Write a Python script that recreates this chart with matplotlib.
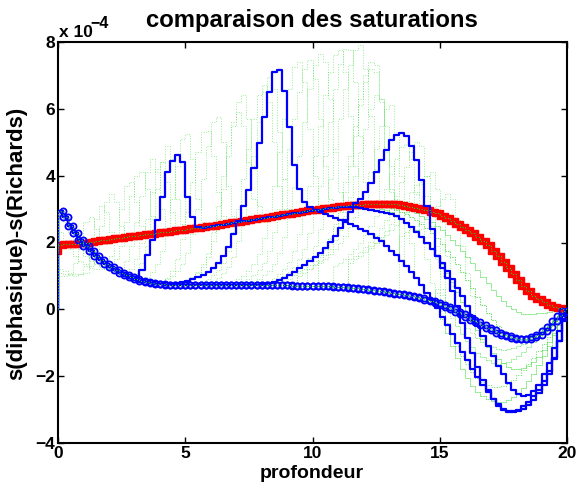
import numpy as np
import matplotlib
matplotlib.use("Agg")
from matplotlib import pyplot as plt

plt.rcParams['font.family'] = ['Liberation Sans', 'DejaVu Sans']
plt.rcParams['font.weight'] = 'bold'

# profondeur grid: 0 .. 20, step 0.2 (101 nodes)
depth = np.linspace(0, 20, 101)

# values are in units of 1e-4
final_s = [0.00,
           2.95, 2.75, 2.50, 2.27, 2.07, 1.90, 1.74, 1.60, 1.47, 1.36,
           1.26, 1.17, 1.09, 1.02, 0.96, 0.91, 0.86, 0.82, 0.79, 0.77,
           0.75, 0.74, 0.73, 0.72, 0.72, 0.72, 0.72, 0.72, 0.72, 0.72,
           0.72, 0.72, 0.72, 0.72, 0.72, 0.72, 0.72, 0.72, 0.72, 0.72,
           0.72, 0.72, 0.72, 0.72, 0.72, 0.72, 0.71, 0.71, 0.71, 0.71,
           0.71, 0.70, 0.70, 0.69, 0.68, 0.67, 0.66, 0.65, 0.63, 0.62,
           0.60, 0.58, 0.56, 0.54, 0.52, 0.50, 0.47, 0.45, 0.42, 0.39,
           0.36, 0.33, 0.29, 0.25, 0.20, 0.14, 0.08, 0.01, -0.07, -0.15,
           -0.23, -0.31, -0.39, -0.47, -0.55, -0.63, -0.70, -0.76, -0.81, -0.85,
           -0.88, -0.89, -0.88, -0.84, -0.77, -0.66, -0.52, -0.36, -0.19, -0.05]

red_s = [1.75,
         1.92, 1.95, 1.96, 1.97, 1.98, 2.00, 2.02, 2.04, 2.06, 2.08,
         2.10, 2.12, 2.14, 2.16, 2.18, 2.20, 2.22, 2.24, 2.26, 2.28,
         2.30, 2.32, 2.34, 2.36, 2.38, 2.40, 2.42, 2.44, 2.46, 2.48,
         2.50, 2.53, 2.55, 2.58, 2.60, 2.62, 2.65, 2.67, 2.70, 2.72,
         2.74, 2.77, 2.79, 2.82, 2.84, 2.86, 2.89, 2.91, 2.94, 2.96,
         2.98, 3.00, 3.02, 3.04, 3.06, 3.08, 3.10, 3.11, 3.12, 3.13,
         3.14, 3.15, 3.16, 3.16, 3.16, 3.15, 3.14, 3.12, 3.10, 3.07,
         3.04, 3.00, 2.96, 2.92, 2.87, 2.80, 2.73, 2.65, 2.56, 2.47,
         2.37, 2.27, 2.16, 2.04, 1.92, 1.76, 1.60, 1.42, 1.24, 1.05,
         0.87, 0.70, 0.54, 0.41, 0.30, 0.21, 0.14, 0.08, 0.04, 0.02]

a_s = [0.00,
       2.95, 2.75, 2.50, 2.27, 2.07, 1.90, 1.74, 1.60, 1.47, 1.36,
       1.26, 1.17, 1.09, 1.02, 0.96, 0.93, 1.18, 1.63, 2.08, 2.67,
       3.37, 4.12, 4.45, 4.62, 4.42, 3.37, 2.77, 2.47, 2.44, 2.46,
       2.48, 2.51, 2.53, 2.56, 2.58, 2.60, 2.63, 2.65, 2.68, 2.70,
       2.72, 2.75, 2.77, 2.80, 2.82, 2.84, 2.87, 2.89, 2.92, 2.94,
       2.96, 2.98, 3.00, 3.02, 3.04, 3.05, 3.06, 3.06, 3.05, 3.03,
       3.00, 2.97, 2.94, 2.91, 2.88, 2.85, 2.80, 2.70, 2.58, 2.45,
       2.30, 2.15, 1.98, 1.80, 1.60, 1.38, 1.15, 0.90, 0.65, 0.40,
       0.10, -0.20, -0.50, -0.80, -1.10, -1.40, -1.70, -1.95, -2.20, -2.40,
       -2.53, -2.58, -2.55, -2.45, -2.25, -1.95, -1.60, -1.15, -0.65, -0.20]

b_s = [0.00,
       2.95, 2.75, 2.50, 2.27, 2.07, 1.90, 1.74, 1.60, 1.47, 1.36,
       1.26, 1.17, 1.09, 1.02, 0.96, 0.91, 0.86, 0.82, 0.79, 0.77,
       0.75, 0.74, 0.76, 0.79, 0.82, 0.86, 0.90, 0.96, 1.03, 1.12,
       1.24, 1.40, 1.60, 1.87, 2.25, 2.65, 3.10, 3.57, 4.22, 4.97,
       5.77, 6.51, 7.09, 7.16, 6.54, 5.45, 4.32, 3.60, 3.20, 3.06,
       2.98, 2.92, 2.86, 2.80, 2.74, 2.68, 2.62, 2.55, 2.48, 2.41,
       2.33, 2.24, 2.14, 2.03, 1.90, 1.76, 1.62, 1.46, 1.30, 1.12,
       0.93, 0.72, 0.50, 0.27, 0.03, -0.22, -0.48, -0.74, -1.00, -1.27,
       -1.53, -1.78, -2.02, -2.25, -2.47, -2.67, -2.84, -2.97, -3.05, -3.07,
       -3.04, -2.97, -2.86, -2.70, -2.50, -2.25, -1.93, -1.50, -0.95, -0.30]

c_s = [0.00,
       2.95, 2.75, 2.50, 2.27, 2.07, 1.90, 1.74, 1.60, 1.47, 1.36,
       1.26, 1.17, 1.09, 1.02, 0.96, 0.91, 0.86, 0.82, 0.79, 0.77,
       0.75, 0.74, 0.73, 0.72, 0.72, 0.72, 0.72, 0.72, 0.72, 0.72,
       0.72, 0.72, 0.72, 0.72, 0.72, 0.72, 0.72, 0.72, 0.72, 0.73,
       0.76, 0.79, 0.83, 0.88, 0.95, 1.03, 1.12, 1.23, 1.34, 1.45,
       1.57, 1.70, 1.85, 2.02, 2.20, 2.42, 2.66, 2.92, 3.18, 3.30,
       3.50, 3.77, 4.12, 4.47, 4.77, 5.07, 5.22, 5.29, 5.19, 4.89,
       4.47, 3.87, 3.10, 2.40, 1.60, 1.25, 0.95, 0.55, 0.10, -0.40,
       -0.85, -1.30, -1.72, -2.10, -2.42, -2.68, -2.88, -3.00, -3.06, -3.05,
       -3.00, -2.90, -2.77, -2.60, -2.40, -2.15, -1.85, -1.45, -0.95, -0.35]

# right-hand parts of the intermediate (green) profiles, 12.0 .. 20.0
early_dip0 = [3.13, 3.14, 3.15, 3.16, 3.16, 3.15, 3.13, 3.10, 3.06, 3.01,
              2.95, 2.88, 2.80, 2.71, 2.61, 2.50, 2.37, 2.23, 2.08, 1.92,
              1.75, 1.57, 1.38, 1.18, 0.98, 0.78, 0.59, 0.41, 0.25, 0.11,
              0.00, -0.08, -0.13, -0.15, -0.14, -0.12, -0.10, -0.08, -0.06, -0.04,
              -0.02]
early_dip1 = [3.12, 3.13, 3.13, 3.12, 3.10, 3.07, 3.03, 2.98, 2.92, 2.85,
              2.76, 2.66, 2.55, 2.42, 2.28, 2.12, 1.95, 1.76, 1.56, 1.35,
              1.12, 0.88, 0.63, 0.38, 0.13, -0.10, -0.31, -0.50, -0.65, -0.77,
              -0.86, -0.91, -0.92, -0.89, -0.82, -0.72, -0.60, -0.46, -0.32, -0.18,
              -0.05]
early_dip2 = [3.10, 3.10, 3.08, 3.05, 3.01, 2.96, 2.90, 2.82, 2.73, 2.62,
              2.50, 2.36, 2.20, 2.02, 1.82, 1.60, 1.36, 1.10, 0.82, 0.53,
              0.23, -0.07, -0.36, -0.63, -0.89, -1.12, -1.32, -1.49, -1.62, -1.72,
              -1.78, -1.80, -1.77, -1.70, -1.58, -1.42, -1.22, -0.98, -0.70, -0.40,
              -0.12]
# 15.0 .. 20.0
late_dip1 = [0.30, -0.05, -0.40, -0.75, -1.10, -1.40, -1.65, -1.87, -2.05, -2.18,
             -2.27, -2.32, -2.33, -2.30, -2.23, -2.12, -1.98, -1.82, -1.64, -1.45,
             -1.25, -1.04, -0.83, -0.60, -0.37, -0.15]
late_dip2 = [0.50, 0.25, 0.00, -0.25, -0.50, -0.74, -0.95, -1.14, -1.30, -1.43,
             -1.53, -1.60, -1.63, -1.62, -1.58, -1.50, -1.40, -1.28, -1.14, -0.99,
             -0.83, -0.67, -0.50, -0.34, -0.19, -0.06]
late_dip3 = [0.10, -0.30, -0.70, -1.10, -1.45, -1.78, -2.05, -2.28, -2.46, -2.60,
             -2.69, -2.75, -2.78, -2.77, -2.72, -2.63, -2.50, -2.34, -2.15, -1.93,
             -1.68, -1.40, -1.10, -0.78, -0.47, -0.20]
late_dip4 = [0.60, 0.42, 0.22, 0.02, -0.18, -0.37, -0.55, -0.71, -0.85, -0.97,
             -1.07, -1.14, -1.19, -1.21, -1.20, -1.17, -1.11, -1.03, -0.93, -0.81,
             -0.68, -0.54, -0.40, -0.27, -0.15, -0.04]

early0 = red_s[:60] + early_dip0
early1 = red_s[:60] + early_dip1
early2 = red_s[:60] + early_dip2
late1 = final_s[:75] + late_dip1
late2 = final_s[:75] + late_dip2
late3 = final_s[:75] + late_dip3
late4 = final_s[:75] + late_dip4

# green profiles: first node of the front, values over the front, profile after it
green_fronts = [
    (1, [1.00, 1.00, 1.05, 1.40, 2.00, 2.60, 2.75, 2.40, 2.00, 1.95], red_s),
    (1, [1.10, 1.05, 1.02, 1.00, 1.05, 1.30, 1.90, 2.70, 3.10, 2.90, 2.30, 2.10], early0),
    (1, [1.20, 1.15, 1.10, 1.05, 1.05, 1.10, 1.30, 1.80, 2.50, 3.20, 3.45, 3.20, 2.50,
         2.15], early0),
    (1, [2.30, 2.00, 1.80, 1.60, 1.45, 1.35, 1.25, 1.20, 1.20, 1.30, 1.60, 2.20, 3.00,
         3.70, 3.80, 3.20, 2.50, 2.20], early1),
    (1, [2.90, 2.60, 2.30, 2.00, 1.80, 1.60, 1.45, 1.35, 1.30, 1.30, 1.35, 1.50, 1.90,
         2.60, 3.40, 4.00, 4.10, 3.60, 2.80, 2.30], early1),
    (6, [1.70, 1.50, 1.38, 1.28, 1.20, 1.15, 1.13, 1.20, 1.45, 1.90, 2.60, 3.40, 4.10,
         4.50, 4.10, 3.00, 2.40], early2),
    (12, [1.18, 1.12, 1.10, 1.20, 1.50, 2.00, 2.70, 3.50, 4.20, 4.40, 3.80, 2.90, 2.40],
     early2),
    (11, [1.20, 1.12, 1.05, 1.00, 1.00, 1.10, 1.40, 1.90, 2.70, 3.60, 4.40, 4.90, 4.50,
          3.30, 2.55], a_s),
    (15, [0.86, 0.86, 0.90, 0.98, 1.12, 1.35, 1.75, 2.40, 3.30, 4.30, 5.10, 5.25, 4.50,
          3.30, 2.60], a_s),
    (20, [0.80, 0.85, 0.95, 1.15, 1.50, 2.10, 2.90, 3.80, 4.70, 5.30, 5.35, 4.60, 3.50,
          2.80, 2.55], a_s),
    (20, [0.80, 0.84, 0.90, 1.00, 1.14, 1.36, 1.70, 2.25, 3.00, 3.90, 4.90, 5.60, 5.75,
          5.00, 3.70, 2.80], a_s),
    (24, [0.78, 0.82, 0.88, 0.98, 1.12, 1.35, 1.70, 2.30, 3.10, 4.00, 4.90, 5.60, 5.90,
          5.50, 4.40, 3.30, 2.80], a_s),
    (24, [0.76, 0.80, 0.86, 0.95, 1.08, 1.28, 1.58, 2.05, 2.70, 3.60, 4.60, 5.50, 6.20,
          6.40, 5.70, 4.30, 3.10], a_s),
    (28, [0.82, 0.86, 0.92, 1.02, 1.17, 1.40, 1.75, 2.30, 3.00, 3.90, 4.80, 5.70, 6.40,
          6.70, 6.20, 5.00, 3.70, 3.00], a_s),
    (29, [0.76, 0.80, 0.86, 0.95, 1.08, 1.28, 1.58, 2.05, 2.70, 3.60, 4.60, 5.60, 6.50,
          6.95, 6.60, 5.30, 3.90, 3.00], a_s),
    (34, [0.78, 0.83, 0.90, 1.00, 1.14, 1.35, 1.66, 2.12, 2.80, 3.70, 4.70, 5.70, 6.60,
          7.25, 7.40, 6.80, 5.40, 4.00, 3.10], b_s),
    (36, [0.80, 0.85, 0.92, 1.02, 1.17, 1.40, 1.75, 2.30, 3.00, 3.90, 4.80, 5.70, 6.50,
          7.20, 7.45, 6.90, 5.70, 4.30, 3.30], b_s),
    (38, [0.80, 0.85, 0.92, 1.02, 1.16, 1.37, 1.68, 2.15, 2.80, 3.65, 4.60, 5.60, 6.60,
          7.30, 7.65, 7.40, 6.30, 4.70, 3.50, 2.90], b_s),
    (41, [0.80, 0.86, 0.94, 1.05, 1.20, 1.42, 1.75, 2.25, 2.90, 3.70, 4.60, 5.50, 6.40,
          7.10, 7.60, 7.75, 7.10, 5.80, 4.30, 3.30], a_s),
    (43, [0.85, 0.91, 1.00, 1.12, 1.28, 1.50, 1.82, 2.28, 2.90, 3.70, 4.60, 5.60, 6.60,
          7.35, 7.80, 7.75, 6.80, 5.20, 3.80, 3.00], a_s),
    (45, [0.85, 0.92, 1.02, 1.15, 1.32, 1.55, 1.90, 2.40, 3.10, 3.90, 4.80, 5.70, 6.60,
          7.30, 7.75, 7.90, 7.20, 5.80, 4.20, 3.20], a_s),
    (48, [1.10, 1.20, 1.32, 1.46, 1.63, 1.84, 2.10, 2.45, 2.90, 3.50, 4.30, 5.20, 6.10,
          6.80, 7.20, 7.10, 6.20, 4.70, 3.50, 2.80], b_s),
    (48, [1.00, 1.10, 1.22, 1.37, 1.56, 1.80, 2.12, 2.55, 3.10, 3.80, 4.60, 5.50, 6.30,
          7.00, 7.40, 7.30, 6.30, 4.80, 3.60, 3.00], b_s),
    (50, [1.20, 1.32, 1.46, 1.62, 1.82, 2.06, 2.38, 2.80, 3.35, 4.00, 4.70, 5.40, 6.00,
          6.40, 6.30, 5.50, 4.30, 3.30, 2.90], b_s),
    (52, [1.40, 1.52, 1.66, 1.82, 2.00, 2.20, 2.45, 2.75, 3.10, 3.55, 4.10, 4.80, 5.50,
          6.00, 6.10, 5.30, 4.00, 2.90, 2.00], b_s),
    (55, [1.30, 1.40, 1.52, 1.66, 1.82, 2.00, 2.22, 2.48, 2.80, 3.18, 3.60, 4.05, 4.50,
          4.85, 4.95, 4.50, 3.50, 2.40, 1.50, 0.80], late3),
    (58, [1.50, 1.60, 1.72, 1.86, 2.02, 2.20, 2.42, 2.68, 3.00, 3.38, 3.80, 4.25, 4.70,
          5.00, 4.90, 4.00, 2.90, 1.90, 1.00], late3),
    (58, [1.40, 1.50, 1.60, 1.72, 1.85, 2.00, 2.16, 2.34, 2.54, 2.76, 3.00, 3.25, 3.50,
          3.72, 3.80, 3.40, 2.50, 1.50, 0.60], late1),
    (62, [1.90, 2.00, 2.10, 2.22, 2.36, 2.52, 2.70, 2.92, 3.18, 3.46, 3.75, 4.00, 4.10,
          3.60, 2.60, 1.60, 0.70], late2),
    (68, [2.20, 2.30, 2.40, 2.50, 2.62, 2.76, 2.92, 3.10, 3.30, 3.45, 3.30, 2.70, 1.90,
          1.10, 0.40], late4),
]

greens = []
for st, fr, aft in green_fronts:
    greens.append(final_s[:st] + fr + aft[st + len(fr):])
greens += [early0, early1, early2, late1, late2, late3, late4]


def stair_vertices(x, y):
    x = np.asarray(x)
    y = np.asarray(y)
    return np.repeat(x, 2)[:-1], np.repeat(y, 2)[1:]


fig = plt.figure(figsize=(5.79, 4.91), dpi=100)
ax = fig.add_axes([58 / 579, 1 - 443 / 491, 509 / 579, 401 / 491])

for g in greens:
    ax.plot(depth, g, color='#44dd44', lw=0.7, ls=':', drawstyle='steps-pre', alpha=0.55, zorder=1)

rx, ry = stair_vertices(depth, red_s)
ax.plot(rx, ry, color='red', lw=1.5, marker='s', ms=4.3, mec='red', mfc='red', zorder=2)

fx, fy = stair_vertices(depth[1:], final_s[1:])
ax.plot(fx, fy, ls='none', marker='o', ms=4.4, mec='blue', mfc='none', mew=1.3, zorder=3)

for s in [a_s, b_s, c_s]:
    ax.plot(depth, s, color='blue', lw=1.6, drawstyle='steps-pre', zorder=4)

# green dotted copies running inside the red and circle bands
ax.plot(depth, red_s, color='#22cc22', lw=0.8, ls=':', drawstyle='steps-pre', zorder=5)
ax.plot(depth, final_s, color='#22cc22', lw=0.8, ls=':', drawstyle='steps-pre', zorder=5)

ax.set_xlim(0, 20)
ax.set_ylim(-4, 8)
ax.set_xticks([0, 5, 10, 15, 20])
ax.set_yticks([-4, -2, 0, 2, 4, 6, 8])
ax.tick_params(direction='in', length=4, width=1, top=True, right=True,
               labelsize=12.5, pad=2)
for lab in ax.get_xticklabels() + ax.get_yticklabels():
    lab.set_fontweight('bold')
for sp in ax.spines.values():
    sp.set_linewidth(1.5)

fig.text(59 / 579, 1 - 37 / 491, 'x 10', fontsize=12.5, fontweight='bold', va='baseline')
fig.text(90 / 579, 1 - 28 / 491, '\u22124', fontsize=11.5, fontweight='bold', va='baseline')
fig.text(312 / 579, 1 - 27 / 491, 'comparaison des saturations', fontsize=17.2,
         fontweight='bold', ha='center', va='baseline')
fig.text(312 / 579, 1 - 478 / 491, 'profondeur', fontsize=14, fontweight='bold',
         ha='center', va='baseline')
fig.text(17 / 579, 1 - 243 / 491, 's(diphasique)-s(Richards)', fontsize=16,
         fontweight='bold', rotation=90, ha='center', va='center')

fig.savefig('out.png', dpi=100)
